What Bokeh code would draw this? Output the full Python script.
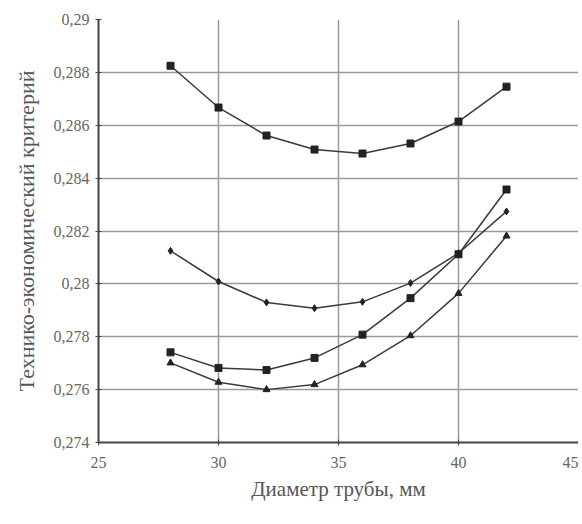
from bokeh.plotting import figure
from bokeh.models import FixedTicker, Range1d
from bokeh.embed import file_html
from bokeh.resources import INLINE

diameters = [28, 30, 32, 34, 36, 38, 40, 42]
series1 = [0.28825, 0.28667, 0.28561, 0.28508, 0.28493, 0.28531, 0.28614, 0.28746]
series2 = [0.28125, 0.28009, 0.27930, 0.27908, 0.27932, 0.28003, 0.28116, 0.28274]
series3 = [0.27741, 0.27682, 0.27674, 0.27720, 0.27808, 0.27946, 0.28112, 0.28357]
series4 = [0.27701, 0.27628, 0.27600, 0.27619, 0.27694, 0.27804, 0.27964, 0.28181]

x_ticks = [25, 30, 35, 40, 45]
y_ticks = [0.274, 0.276, 0.278, 0.28, 0.282, 0.284, 0.286, 0.288, 0.29]
y_tick_labels = ["0,274", "0,276", "0,278", "0,28", "0,282", "0,284", "0,286", "0,288", "0,29"]

p = figure(width=578, height=516, output_backend="svg", toolbar_location=None,
           x_range=Range1d(25, 45), y_range=Range1d(0.274, 0.29),
           min_border_left=98, min_border_right=0, min_border_top=19, min_border_bottom=74)
p.outline_line_color = None
p.background_fill_color = "white"
p.border_fill_color = "white"

p.xaxis.ticker = FixedTicker(ticks=x_ticks)
p.yaxis.ticker = FixedTicker(ticks=y_ticks)
p.yaxis.major_label_overrides = {t: l for t, l in zip(y_ticks, y_tick_labels)}
p.xaxis.major_label_overrides = {t: str(t) for t in x_ticks}

for ax in (p.xaxis, p.yaxis):
    ax.axis_line_color = "#444444"
    ax.axis_line_width = 2
    ax.major_tick_in = 3
    ax.major_tick_out = 3
    ax.major_tick_line_color = "#444444"
    ax.minor_tick_line_color = None
    ax.major_label_text_font = "Liberation Serif"
    ax.major_label_text_font_size = "16px"
    ax.major_label_text_color = "#666666"
    ax.axis_label_text_font = "Liberation Serif"
    ax.axis_label_text_font_style = "normal"
    ax.axis_label_text_color = "#555555"

p.xaxis.axis_label_text_font_size = "21px"
p.yaxis.axis_label_text_font_size = "22px"
p.xaxis.major_label_standoff = 11
p.xaxis.axis_label = "Диаметр трубы, мм"
p.xaxis.axis_label_standoff = 6
p.yaxis.major_label_standoff = 6
p.yaxis.axis_label = "Технико-экономический критерий"
p.yaxis.axis_label_standoff = 12

p.xgrid.ticker = FixedTicker(ticks=x_ticks)
p.ygrid.ticker = FixedTicker(ticks=y_ticks)
p.grid.grid_line_color = "#9a9a9a"
p.grid.grid_line_width = 1.5

line_color = "#3a3a3a"
for ys, marker in ((series1, "square"), (series2, "diamond"), (series3, "square"), (series4, "triangle")):
    p.line(diameters, ys, line_color=line_color, line_width=1.5)
    p.scatter(diameters, ys, marker=marker, size=7, fill_color="#222222", line_color="#222222")

open("out.html", "w").write(file_html(p, INLINE))
